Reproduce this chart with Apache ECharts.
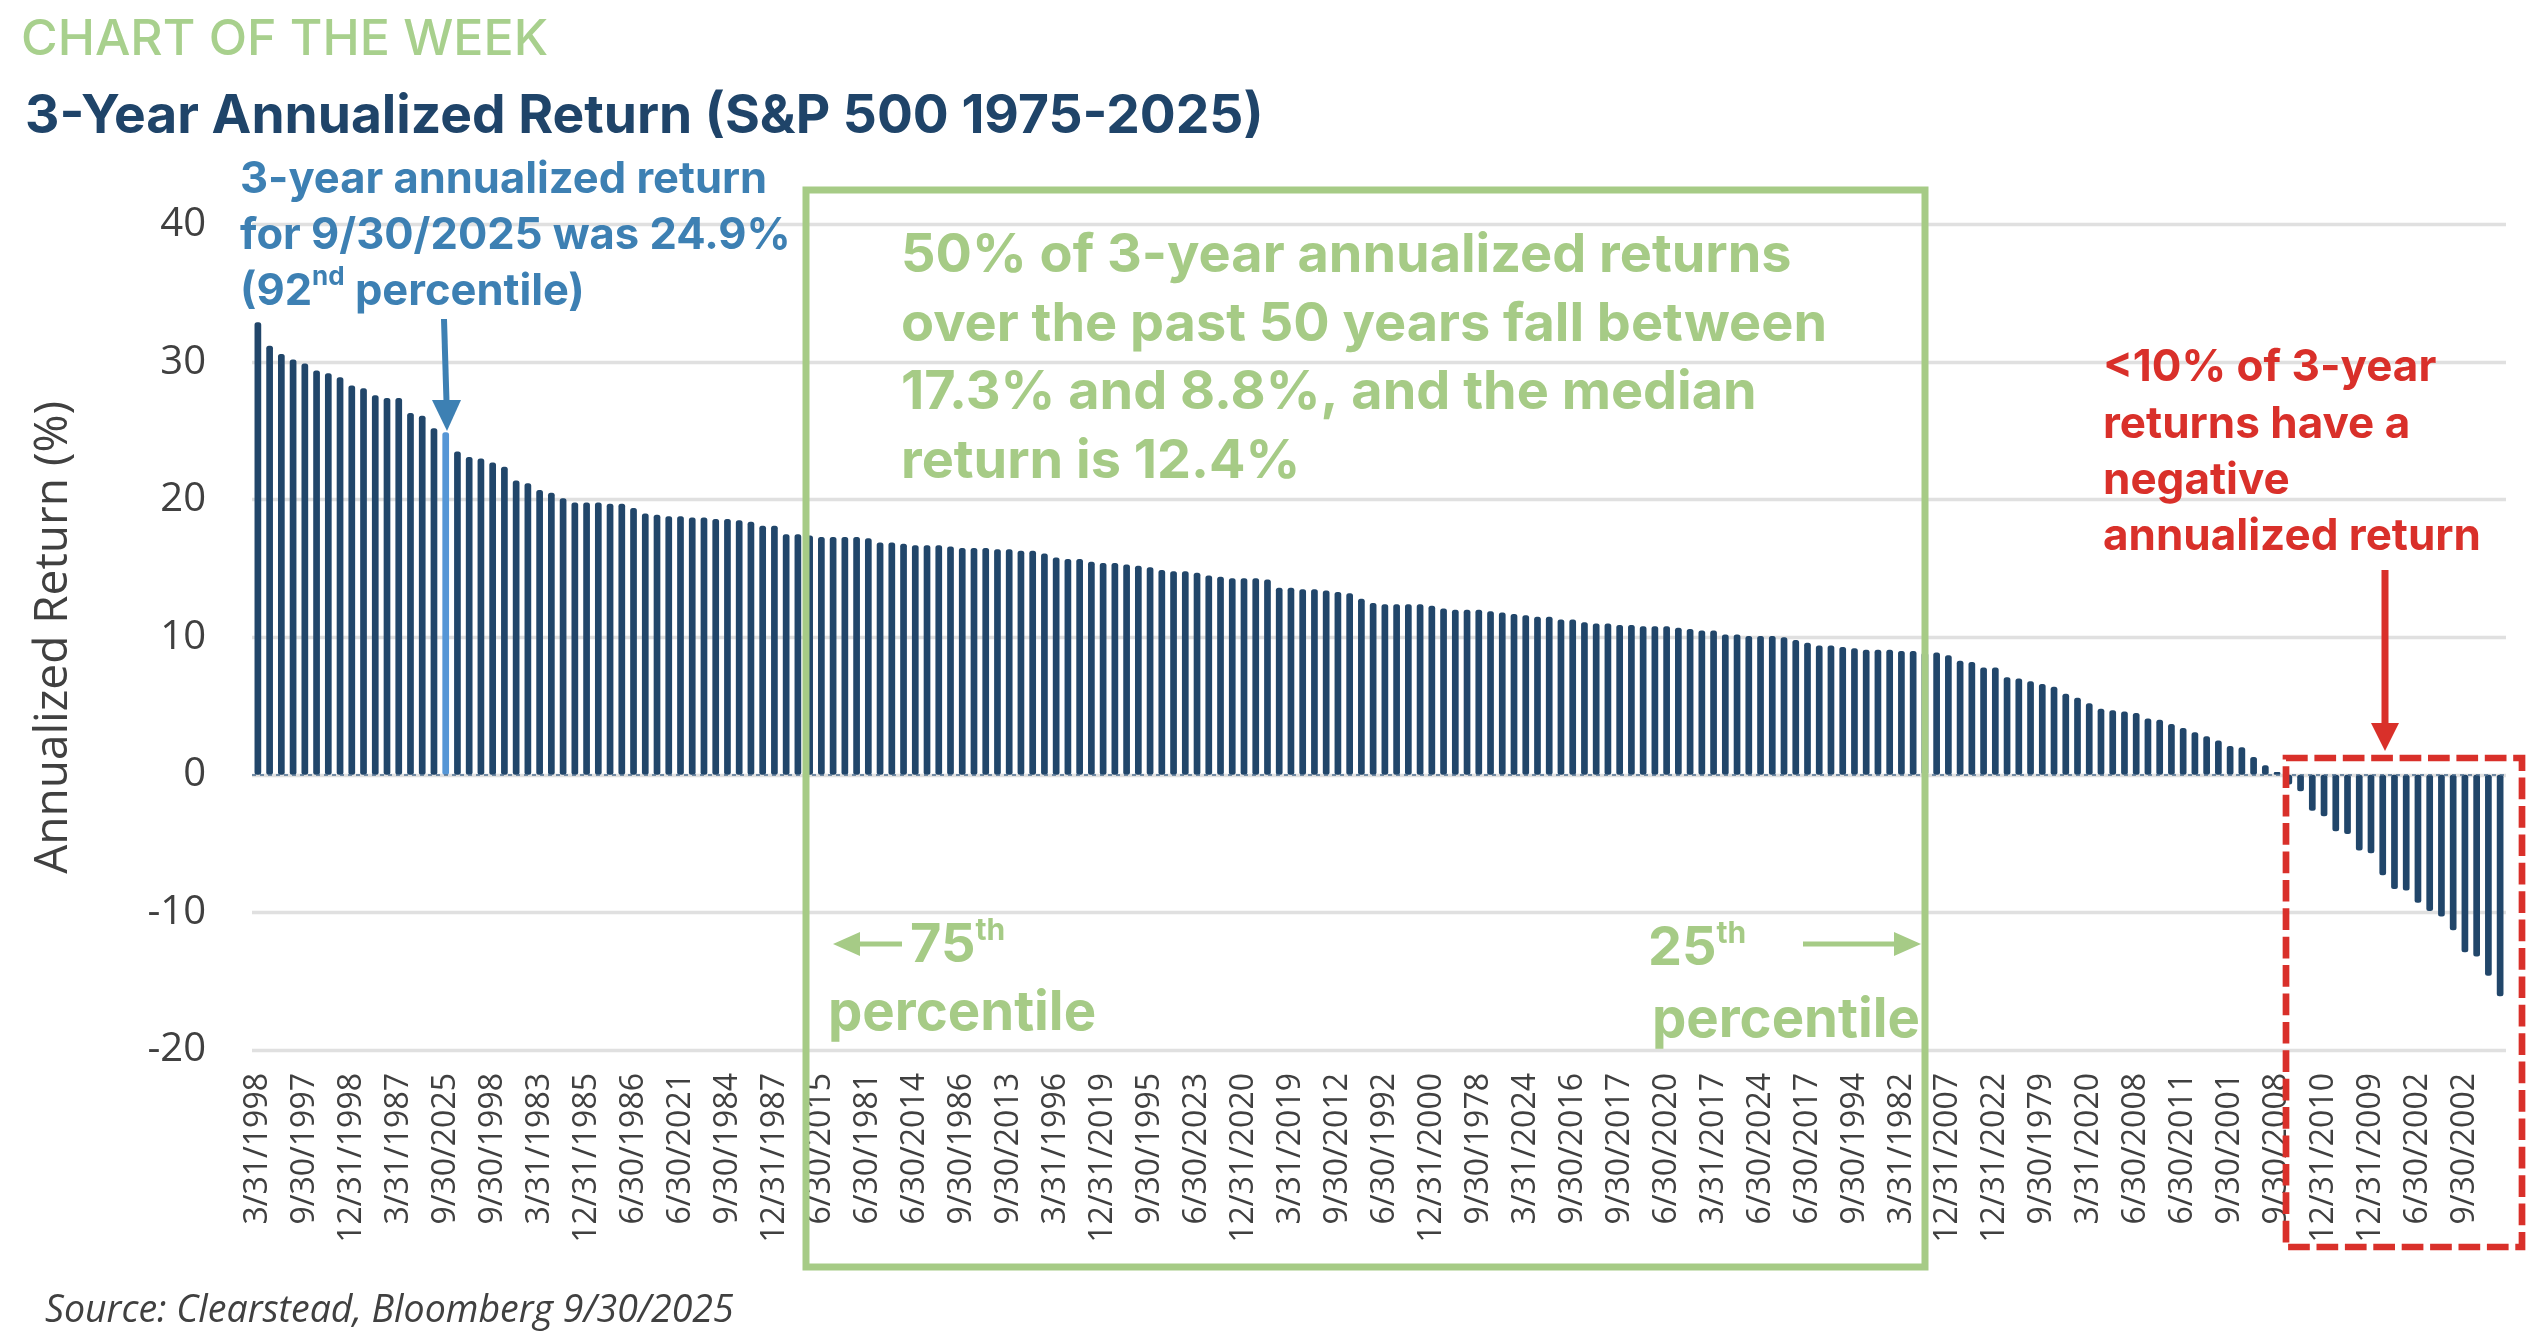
<!DOCTYPE html>
<html>
<head>
<meta charset="utf-8">
<script src="https://cdn.jsdelivr.net/npm/echarts@6/dist/echarts.min.js"></script>
<style>
html,body{margin:0;padding:0;background:#ffffff;}
#chart{width:2546px;height:1336px;}
</style>
</head>
<body>
<div id="chart"></div>
<script>
// ---- Data ----
const tickLabels = [
  '3/31/1998','9/30/1997','12/31/1998','3/31/1987','9/30/2025','9/30/1998','3/31/1983','12/31/1985',
  '6/30/1986','6/30/2021','9/30/1984','12/31/1987','6/30/2015','6/30/1981','6/30/2014','9/30/1986',
  '9/30/2013','3/31/1996','12/31/2019','9/30/1995','6/30/2023','12/31/2020','3/31/2019','9/30/2012',
  '6/30/1992','12/31/2000','9/30/1978','3/31/2024','9/30/2016','9/30/2017','6/30/2020','3/31/2017',
  '6/30/2024','6/30/2017','9/30/1994','3/31/1982','12/31/2007','12/31/2022','9/30/1979','3/31/2020',
  '6/30/2008','6/30/2011','9/30/2001','9/30/2008','12/31/2010','12/31/2009','6/30/2002','9/30/2002'
];
const labelEvery = 4;

const returns = [
  32.9,31.2,30.6,30.2,29.9,29.4,29.2,28.9,28.3,28.1,27.6,27.4,27.4,26.3,26.1,25.2,
  24.9,23.5,23.1,23.0,22.7,22.4,21.4,21.2,20.7,20.5,20.1,19.8,19.8,19.8,19.7,19.7,
  19.4,19.0,18.9,18.8,18.8,18.7,18.7,18.6,18.6,18.5,18.4,18.1,18.1,17.5,17.5,17.4,
  17.3,17.3,17.3,17.3,17.2,16.9,16.9,16.8,16.7,16.7,16.7,16.6,16.5,16.5,16.5,16.4,
  16.4,16.3,16.3,16.1,15.8,15.7,15.7,15.5,15.4,15.4,15.3,15.2,15.1,14.9,14.8,14.8,
  14.7,14.5,14.4,14.3,14.3,14.3,14.2,13.6,13.6,13.5,13.5,13.4,13.3,13.2,12.8,12.5,
  12.4,12.4,12.4,12.4,12.3,12.1,12.0,12.0,12.0,11.9,11.8,11.7,11.6,11.5,11.5,11.3,
  11.3,11.1,11.0,11.0,10.9,10.9,10.8,10.8,10.8,10.7,10.6,10.5,10.5,10.2,10.2,10.1,
  10.1,10.1,10.0,9.8,9.6,9.4,9.4,9.3,9.2,9.1,9.1,9.1,9.0,9.0,8.9,8.9,
  8.7,8.3,8.2,7.8,7.8,7.1,7.0,6.8,6.6,6.4,5.9,5.6,5.2,4.8,4.7,4.6,
  4.5,4.1,4.0,3.7,3.4,3.1,2.8,2.5,2.1,2.0,1.3,0.7,0.2,-0.7,-1.2,-2.6,
  -3.0,-4.1,-4.3,-5.5,-5.7,-7.3,-8.3,-8.4,-9.3,-9.9,-10.3,-11.3,-12.9,-13.2,-14.6,-16.1
];
const highlightLabel = '9/30/2025';
const yMin = -20, yMax = 40, yStep = 10;

// ---- Build ----
const categories = returns.map((v, i) => (i % labelEvery === 0 ? tickLabels[i / labelEvery] : ''));
const hiIdx = categories.indexOf(highlightLabel);

const NAVY = '#21466a';
const HILITE = '#5596d6';
const BLUE = '#3d80b3';
const GREEN = '#a6cb86';
const RED = '#d9302a';
const GREY = '#404040';
const HEAD = 'Inter, "DejaVu Sans", sans-serif';
const BODY = '"Open Sans", "DejaVu Sans", sans-serif';

function txt(x, y, text, size, fill, extra) {
  return {
    type: 'text', x: x, y: y, z: 100,
    style: Object.assign({
      text: text, fontSize: size, fontFamily: HEAD, fontWeight: 700, fill: fill,
      align: 'left', verticalAlign: 'middle'
    }, extra || {})
  };
}
function supRich(size, fill, lh) {
  return {
    sup: { fontSize: size, fontFamily: HEAD, fontWeight: 700, fill: fill, verticalAlign: 'top', lineHeight: lh }
  };
}
function line(x1, y1, x2, y2, color, w) {
  return { type: 'line', z: 100, shape: { x1, y1, x2, y2 }, style: { stroke: color, lineWidth: w } };
}
function tri(points, color) {
  return { type: 'polygon', z: 100, shape: { points: points }, style: { fill: color } };
}

const graphics = [
  txt(21, 40, 'CHART OF THE WEEK', 50, '#a8d08d', { fontWeight: 500 }),
  txt(25, 117, '3-Year Annualized Return (S&P 500 1975-2025)', 53.3, '#1f4469'),
  // blue annotation
  txt(240, 152, '3-year annualized return\nfor 9/30/2025 was 24.9%\n(92{sup|nd} percentile)', 43.5, BLUE,
      { verticalAlign: 'top', lineHeight: 56, rich: supRich(26, BLUE, 22) }),
  line(444, 319, 446.5, 402, BLUE, 6),
  tri([[432, 400], [461, 400], [447, 431]], BLUE),
  // green box + text
  { type: 'rect', z: 100, shape: { x: 806, y: 190, width: 1119, height: 1077 },
    style: { fill: 'transparent', stroke: GREEN, lineWidth: 7 } },
  txt(901, 222, '50% of 3-year annualized returns\nover the past 50 years fall between\n17.3% and 8.8%, and the median\nreturn is 12.4%', 54, GREEN,
      { verticalAlign: 'top', lineHeight: 68.5 }),
  // 75th
  line(855, 944, 902, 944, GREEN, 5),
  tri([[833, 944], [860, 932], [860, 956]], GREEN),
  txt(910, 946, '75{sup|th}', 54, GREEN, { rich: supRich(30, GREEN, 22), lineHeight: 60 }),
  txt(828, 1014, 'percentile', 54.5, GREEN),
  // 25th
  txt(1648, 949, '25{sup|th}', 54, GREEN, { rich: supRich(30, GREEN, 22), lineHeight: 60 }),
  line(1803, 944, 1898, 944, GREEN, 5),
  tri([[1921, 944], [1894, 932], [1894, 956]], GREEN),
  txt(1920, 1021, 'percentile', 54.5, GREEN, { align: 'right' }),
  // red annotation
  txt(2103, 340, '<10% of 3-year\nreturns have a\nnegative\nannualized return', 44, RED,
      { verticalAlign: 'top', lineHeight: 56.2 }),
  line(2385, 570, 2385, 726, RED, 7),
  tri([[2371, 723], [2399, 723], [2385, 751]], RED),
  { type: 'rect', z: 100, shape: { x: 2286, y: 758, width: 236, height: 489 },
    style: { fill: 'transparent', stroke: RED, lineWidth: 6.7, lineDash: [21.7, 6.7] } },
  // source
  txt(45, 1311, 'Source: Clearstead, Bloomberg 9/30/2025', 37.5, GREY,
      { fontFamily: BODY, fontWeight: 400, fontStyle: 'italic' })
];

const chart = echarts.init(document.getElementById('chart'), null, { renderer: 'canvas' });
chart.setOption({
  backgroundColor: '#ffffff',
  animation: false,
  grid: { left: 252, right: 40, top: 224.6, bottom: 286 },
  xAxis: {
    type: 'category',
    data: categories,
    axisLine: { show: false, onZero: false },
    axisTick: { show: false },
    axisLabel: {
      interval: labelEvery - 1, rotate: 90, margin: 23,
      fontFamily: BODY, fontSize: 32, color: GREY
    },
    splitLine: { show: false }
  },
  yAxis: {
    type: 'value', min: yMin, max: yMax, interval: yStep,
    name: 'Annualized Return (%)', nameLocation: 'middle', nameRotate: 90, nameGap: 175,
    nameTextStyle: { fontFamily: BODY, fontSize: 46, color: GREY },
    axisLine: { show: false }, axisTick: { show: false },
    axisLabel: { fontFamily: BODY, fontSize: 40, color: GREY, margin: 46 },
    splitLine: { lineStyle: { color: '#e0e0e0', width: 3.3 } }
  },
  series: [{
    type: 'bar',
    data: returns.map((v, i) => (i === hiIdx ? { value: v, itemStyle: { color: HILITE } } : v)),
    barWidth: 6.7,
    itemStyle: { color: NAVY, borderRadius: 2.5 },
    markLine: {
      silent: true, symbol: 'none', label: { show: false },
      lineStyle: { color: '#4d6f90', width: 1.5, type: [4, 4] },
      data: [{ yAxis: 0 }]
    }
  }],
  graphic: graphics
});
</script>
</body>
</html>
